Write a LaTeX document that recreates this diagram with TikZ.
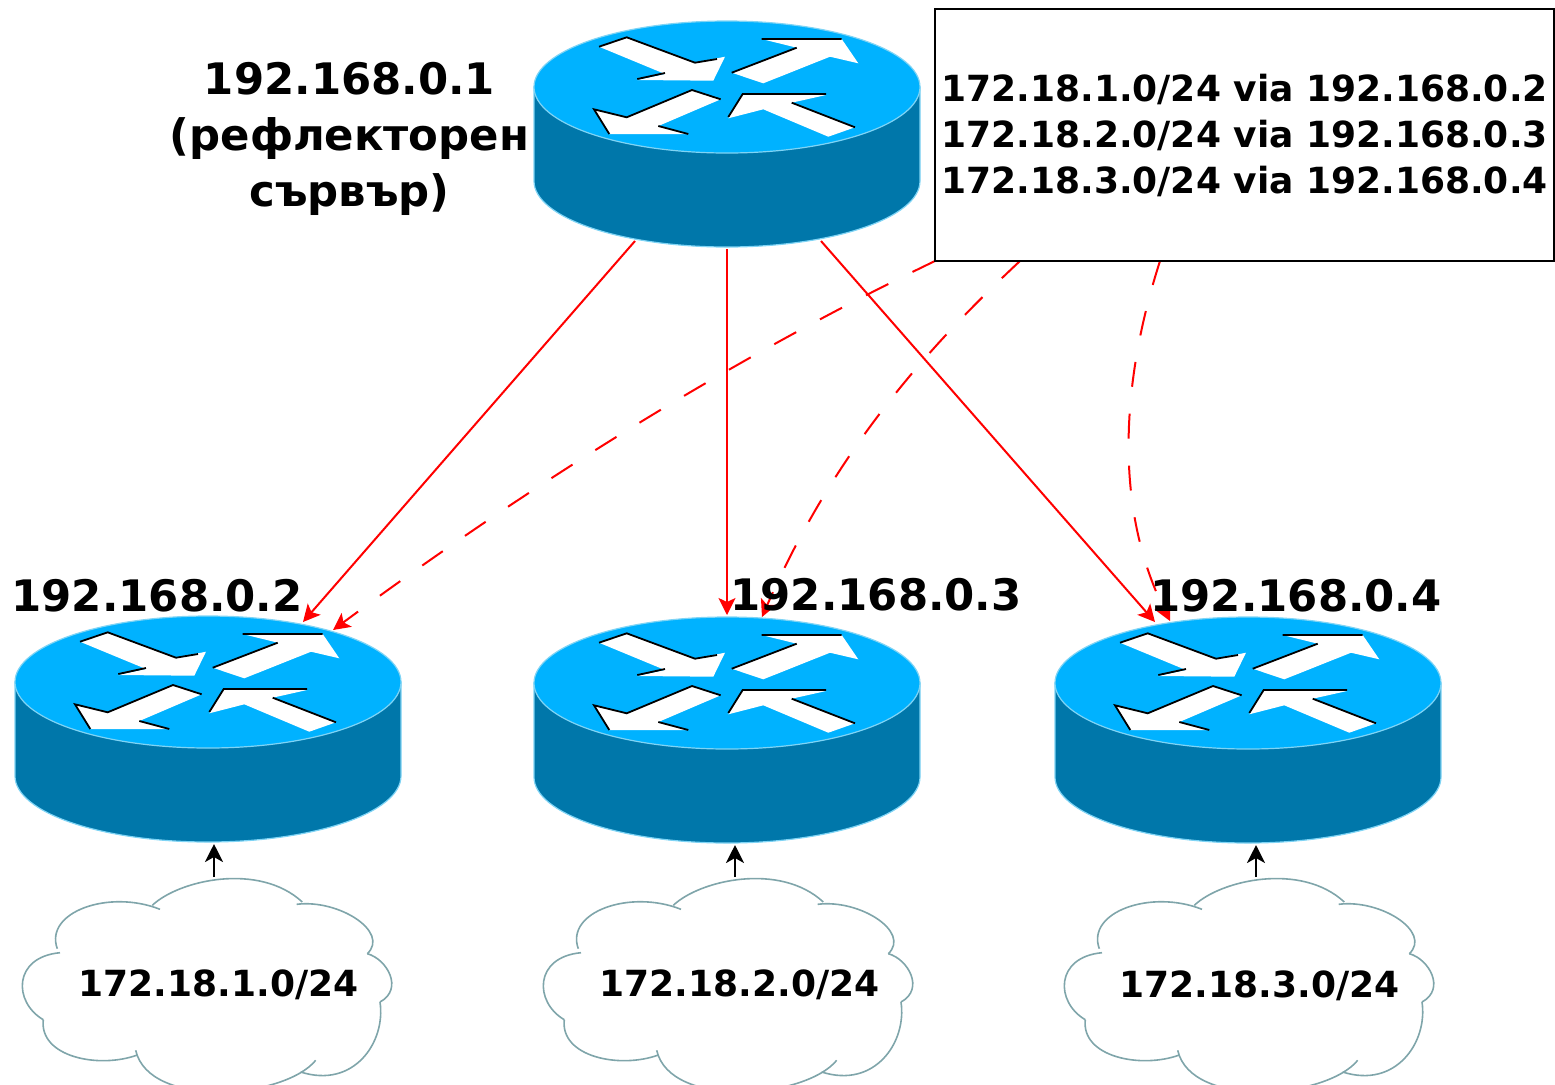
\documentclass[tikz,border=0pt]{standalone}
\usepackage{fontspec}
\setmainfont{DejaVu Sans}
\usetikzlibrary{arrows.meta}
\definecolor{routertop}{HTML}{00B2FF}
\definecolor{routerside}{HTML}{0077AA}
\definecolor{routeredge}{HTML}{7FD4F5}
\definecolor{cloudedge}{HTML}{7FA5AA}
\tikzset{
	routerlink/.style={red,line width=1pt,-{Stealth[length=8.5pt,width=8.5pt,inset=2pt]}},
	routerdash/.style={routerlink,dash pattern=on 12.5pt off 13.5pt},
	uplink/.style={black,line width=1.1pt,-{Stealth[length=9pt,width=9pt,inset=2.5pt]}},
	biglabel/.style={font=\fontsize{21.7}{28}\selectfont\bfseries,inner sep=0pt,align=center},
	smalllabel/.style={font=\fontsize{18}{23}\selectfont\bfseries,inner sep=0pt,align=center},
	cloudline/.style={cloudedge,line width=0.8pt},
	router/.pic={
		\draw[fill=routerside,draw=routeredge,line width=0.6pt] (-193,0) -- (-193,94) .. controls (-193,130.5) and (-106.6,160) .. (0,160) .. controls (106.6,160) and (193,130.5) .. (193,94) -- (193,0) -- cycle;
		\draw[fill=routertop,draw=routeredge,line width=0.6pt] (0,0) ellipse [x radius=193pt/2,y radius=66pt/2];
		\fill[white] (-128,-40.3) -- (-100.3,-49.7) -- (-32,-24.3) -- (-2,-30.3) -- (-13.7,-6.3) -- (-89.7,-7) -- (-62,-13) -- cycle;
		\fill[white] (34.7,-48) -- (114.7,-48) -- (131.3,-23.7) -- (103,-30.3) -- (36.3,-3.7) -- (4.7,-14.3) -- (69.7,-39.3) -- cycle;
		\fill[white] (-133,22.3) -- (-100.3,30.3) -- (-35,3) -- (-6.3,12.3) -- (-68.7,39) -- (-38.7,47) -- (-117.7,47) -- cycle;
		\fill[white] (15.7,7) -- (99,8) -- (64.7,15.7) -- (128,40.3) -- (101.3,49.7) -- (36.3,22.3) -- (1.3,31.3) -- cycle;
		\draw[line width=0.9pt] (-128,-40.3) -- (-100.3,-49.7) -- (-32,-24.3) -- (-10,-28) (-89.7,-8) -- (-62,-14);
		\draw[line width=0.9pt] (34.7,-48) -- (114.7,-48) (4.7,-14.3) -- (69.7,-39.3);
		\draw[line width=0.9pt] (-117.7,47) -- (-133,22.3) -- (-100.3,30.3) -- (-35,3) -- (-6.3,12.3) (-68.7,39) -- (-38.7,47);
		\draw[line width=0.9pt] (1.3,30) -- (15.7,7) -- (99,7) (64.7,15.7) -- (128,40.3);
		\coordinate (-south) at (0,162);
		\coordinate (-tl) at (-92,154);
		\coordinate (-tr) at (94,154);
	},
	cloud/.pic={
		\draw[cloudline] (-54,32.3) .. controls (-105,12) and (-170,35) .. (-156.7,71.7);
		\draw[cloudline] (-61.7,28.3) .. controls (-35,3) and (45,-15) .. (88.3,25);
		\draw[cloudline] (82.7,27.3) .. controls (125,22) and (176,55) .. (153.3,76.7);
		\draw[cloudline] (153.3,76.7) .. controls (173,82) and (190,112) .. (166,125);
		\draw[cloudline] (166,125) .. controls (172,165) and (140,212) .. (86.7,195);
		\draw[cloudline] (101.7,183.3) .. controls (70,222) and (-65,232) .. (-78.3,173.3);
		\draw[cloudline] (-76.7,178) .. controls (-115,192) and (-175,180) .. (-170.7,142.7);
		\draw[cloudline] (-170.7,142.7) .. controls (-201,125) and (-201,80) .. (-154,75.7);
		\coordinate (-top) at (0,0);
	},
}
\begin{document}
\begin{tikzpicture}[x=0.5pt,y=-0.5pt]
	\clip (0,0) rectangle (1555,1084);
	\pic (RA) at (727,87) {router};
	\pic (RB) at (208,682) {router};
	\pic (RC) at (727,683) {router};
	\pic (RD) at (1248,683) {router};
	\pic (CB) at (214,877) {cloud};
	\pic (CC) at (735,877) {cloud};
	\pic (CD) at (1256,877) {cloud};
	\coordinate (B) at (303,622);
	\coordinate (C) at (727,615);
	\coordinate (D) at (1155,622);
	\coordinate (BX) at (333,630);
	\coordinate (CX) at (762,617);
	\coordinate (DX) at (1170,621);
	\coordinate (NB) at (935,261);
	\coordinate (NC) at (1020,261);
	\coordinate (ND) at (1160,261);
	\draw[routerlink] (RA-tl) -- (B);
	\draw[routerlink] (RA-south) -- (C);
	\draw[routerlink] (RA-tr) -- (D);
	\draw[routerdash] (NB) .. controls (750,350) and (550,470) .. (BX);
	\draw[routerdash] (NC) .. controls (930,345) and (835,450) .. (CX);
	\draw[routerdash] (ND) .. controls (1125,370) and (1110,500) .. (DX);
	\draw[uplink] (CB-top) -- (CB-top |- RB-south);
	\draw[uplink] (CC-top) -- (CC-top |- RC-south);
	\draw[uplink] (CD-top) -- (CD-top |- RD-south);
	\node[smalllabel,draw,line width=1pt,minimum width=309.5pt,minimum height=126pt] (note) at (1244.5,135) {172.18.1.0/24 via 192.168.0.2\\172.18.2.0/24 via 192.168.0.3\\172.18.3.0/24 via 192.168.0.4};
	\node[biglabel] (lblA) at (349.5,139) {192.168.0.1\\(рефлекторен\\сървър)};
	\node[biglabel] (lblB) at (157,596) {192.168.0.2};
	\node[biglabel] (lblC) at (876,595) {192.168.0.3};
	\node[biglabel] (lblD) at (1296,596) {192.168.0.4};
	\node[smalllabel] (netB) at (218.5,985) {172.18.1.0/24};
	\node[smalllabel] (netC) at (739.5,985) {172.18.2.0/24};
	\node[smalllabel] (netD) at (1259.5,986) {172.18.3.0/24};
\end{tikzpicture}
\end{document}
